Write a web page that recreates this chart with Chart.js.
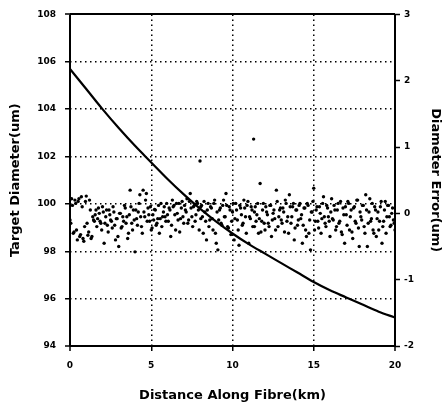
<!DOCTYPE html>
<html>
<head>
<meta charset="utf-8">
<script src="https://cdn.jsdelivr.net/npm/chart.js@4/dist/chart.umd.min.js"></script>
<style>
  html, body { margin: 0; padding: 0; background: #fff; }
  #wrap { width: 443px; height: 406px; }
</style>
</head>
<body>
<div id="wrap"><canvas id="c" width="443" height="406"></canvas></div>
<script>
// target diameter curve (left axis)
const curveX = [0, 1, 2, 3, 4, 5, 6, 7, 8, 9, 10, 11, 12, 13, 14, 15, 16, 17, 18, 19, 20];
const curveY = [105.7, 104.85, 104.0, 103.2, 102.45, 101.75, 101.05, 100.4, 99.8, 99.25, 98.75,
                98.3, 97.9, 97.5, 97.1, 96.7, 96.35, 96.05, 95.75, 95.45, 95.2];

// diameter error points (right axis)
const errX = [
  0.0, 0.05, 0.1, 0.2, 0.3, 0.4, 0.5, 0.6, 0.7, 0.8, 0.9, 1.0, 1.1, 1.2, 1.3, 1.4, 1.5, 1.6, 1.7, 1.8, 1.9,
  2.0, 2.1, 2.2, 2.3, 2.4, 2.5, 2.6, 2.7, 2.8, 2.9, 3.0, 3.1, 3.2, 3.3, 3.4, 3.5, 3.6, 3.7, 3.8, 3.9,
  4.0, 4.1, 4.2, 4.3, 4.4, 4.5, 4.6, 4.7, 4.8, 4.9, 5.0, 5.1, 5.2, 5.3, 5.4, 5.5, 5.6, 5.7, 5.8, 5.9,
  6.0, 6.1, 6.2, 6.3, 6.4, 6.5, 6.6, 6.7, 6.8, 6.9, 7.0, 7.1, 7.2, 7.3, 7.4, 7.5, 7.6, 7.7, 7.8, 7.9,
  8.0, 8.05, 8.1, 8.2, 8.3, 8.4, 8.5, 8.6, 8.7, 8.8, 8.9, 9.0, 9.1, 9.2, 9.3, 9.4, 9.5, 9.6, 9.7, 9.8, 9.9,
  10.0, 10.1, 10.2, 10.3, 10.4, 10.5, 10.6, 10.7, 10.8, 10.9, 11.0, 11.1, 11.2, 11.3, 11.35, 11.4, 11.5,
  11.6, 11.7, 11.8, 11.9, 12.0, 12.1, 12.2, 12.3, 12.4, 12.5, 12.6, 12.7, 12.8, 12.9, 13.0, 13.1, 13.2,
  13.3, 13.4, 13.5, 13.6, 13.7, 13.8, 13.9, 14.0, 14.1, 14.2, 14.3, 14.4, 14.5, 14.6, 14.7, 14.8, 14.9,
  15.0, 15.1, 15.2, 15.3, 15.4, 15.5, 15.6, 15.7, 15.8, 15.9, 16.0, 16.1, 16.2, 16.3, 16.4, 16.5, 16.6,
  16.7, 16.8, 16.9, 17.0, 17.1, 17.2, 17.3, 17.4, 17.5, 17.6, 17.7, 17.8, 17.9, 18.0, 18.1, 18.2, 18.3,
  18.4, 18.5, 18.6, 18.7, 18.8, 18.9, 19.0, 19.1, 19.2, 19.3, 19.4, 19.5, 19.6, 19.7, 19.8, 19.9, 20.0,
  0.15, 0.25, 0.35, 0.45, 0.55, 0.65, 0.75, 0.85, 0.95, 1.05, 1.15, 1.25, 1.35, 1.45, 1.55, 1.65, 1.75, 1.85, 1.95, 2.05,
  2.15, 2.25, 2.35, 2.45, 2.55, 2.65, 2.75, 2.85, 2.95, 3.05, 3.15, 3.25, 3.35, 3.45, 3.55, 3.65, 3.75, 3.85, 3.95, 4.05,
  4.15, 4.25, 4.35, 4.45, 4.55, 4.65, 4.75, 4.85, 4.95, 5.05, 5.15, 5.25, 5.35, 5.45, 5.55, 5.65, 5.75, 5.85, 5.95, 6.05,
  6.15, 6.25, 6.35, 6.45, 6.55, 6.65, 6.75, 6.85, 6.95, 7.05, 7.15, 7.25, 7.35, 7.45, 7.55, 7.65, 7.75, 7.85, 7.95, 8.05,
  8.15, 8.25, 8.35, 8.45, 8.55, 8.65, 8.75, 8.85, 8.95, 9.05, 9.15, 9.25, 9.35, 9.45, 9.55, 9.65, 9.75, 9.85, 9.95, 10.05,
  10.15, 10.25, 10.35, 10.45, 10.55, 10.65, 10.75, 10.85, 10.95, 11.05, 11.15, 11.25, 11.35, 11.45, 11.55, 11.65, 11.75, 11.85, 11.95, 12.05,
  12.15, 12.25, 12.35, 12.45, 12.55, 12.65, 12.75, 12.85, 12.95, 13.05, 13.15, 13.25, 13.35, 13.45, 13.55, 13.65, 13.75, 13.85, 13.95, 14.05,
  14.15, 14.25, 14.35, 14.45, 14.55, 14.65, 14.75, 14.85, 14.95, 15.05, 15.15, 15.25, 15.35, 15.45, 15.55, 15.65, 15.75, 15.85, 15.95, 16.05,
  16.15, 16.25, 16.35, 16.45, 16.55, 16.65, 16.75, 16.85, 16.95, 17.05, 17.15, 17.25, 17.35, 17.45, 17.55, 17.65, 17.75, 17.85, 17.95, 18.05,
  18.15, 18.25, 18.35, 18.45, 18.55, 18.65, 18.75, 18.85, 18.95, 19.05, 19.15, 19.25, 19.35, 19.45, 19.55, 19.65, 19.75, 19.85, 19.95
];
const errY = [
  -0.10, -0.15, 0.22, -0.30, 0.20, -0.25, 0.18, -0.35, 0.25, -0.38, -0.20, 0.26, -0.33, 0.20, -0.38, -0.05, -0.12, 0.05, -0.08, 0.00, -0.15,
  0.10, -0.45, -0.05, -0.18, 0.05, -0.10, -0.22, 0.02, -0.40, -0.08, -0.50, 0.00, -0.20, -0.12, 0.08, -0.05, -0.30, 0.35, -0.15, 0.05,
  -0.58, -0.08, 0.02, 0.28, -0.20, 0.35, -0.05, 0.30, 0.08, -0.12, -0.25, -0.02, 0.06, -0.18, -0.08, -0.30, 0.15, -0.05, 0.10, -0.12,
  -0.02, 0.08, -0.35, 0.20, 0.12, -0.25, 0.00, 0.15, -0.08, 0.18, -0.15, 0.05, 0.22, -0.10, 0.30, -0.05, 0.10, -0.12, 0.18, 0.05,
  0.79, -0.08, 0.12, -0.30, 0.02, -0.40, 0.15, -0.10, 0.08, -0.25, 0.20, -0.45, -0.55, 0.05, -0.15, 0.12, -0.05, 0.30, -0.20, 0.10, -0.32,
  0.02, -0.40, 0.15, -0.10, -0.48, 0.08, -0.18, 0.20, -0.05, 0.12, -0.45, -0.08, 0.05, 1.12, -0.20, 0.10, -0.02,
  -0.30, 0.45, -0.12, 0.15, -0.25, 0.02, -0.15, 0.12, -0.35, 0.00, -0.08, 0.35, -0.20, 0.05, -0.10, 0.08, -0.28,
  0.15, -0.05, 0.28, -0.15, 0.10, -0.40, 0.05, -0.18, 0.12, -0.08, -0.45, 0.08, -0.25, 0.15, -0.30, -0.55, 0.02,
  0.38, -0.12, 0.10, -0.22, 0.00, -0.08, 0.25, -0.15, 0.12, -0.05, -0.35, 0.22, -0.10, 0.05, -0.20, 0.15, -0.12,
  -0.28, 0.08, -0.45, -0.02, 0.18, -0.25, 0.05, -0.38, 0.10, -0.15, 0.20, -0.50, -0.05, 0.12, -0.20, 0.28, -0.50,
  0.02, -0.12, 0.15, -0.30, 0.05, -0.08, -0.25, 0.10, -0.45, -0.12, 0.18, -0.05, 0.12, -0.20, 0.00, -0.10, -0.25,
  0.12, -0.28, 0.15, -0.40, 0.22, -0.32, 0.10, -0.42, 0.18, -0.15, -0.28, 0.05, -0.35, -0.10, -0.02, -0.20, 0.08, -0.12, -0.25, 0.02,
  -0.15, 0.05, -0.28, -0.02, -0.12, 0.10, -0.18, -0.08, -0.35, 0.00, -0.22, -0.05, 0.12, -0.15, -0.38, -0.02, 0.10, -0.25, -0.10, 0.05,
  -0.18, 0.15, -0.05, -0.30, 0.02, 0.20, -0.12, -0.02, 0.10, -0.22, -0.10, 0.05, -0.15, 0.12, -0.08, -0.20, 0.02, -0.05, 0.15, -0.12,
  0.05, -0.18, 0.10, -0.02, 0.15, -0.10, -0.28, 0.08, -0.05, 0.12, 0.02, -0.15, 0.18, 0.08, -0.20, 0.12, -0.02, 0.15, -0.25, 0.10,
  -0.05, 0.18, -0.12, 0.05, -0.20, 0.10, -0.08, 0.15, -0.30, 0.02, -0.10, 0.08, -0.18, 0.20, -0.05, 0.12, -0.22, 0.05, -0.12, 0.15,
  -0.08, 0.05, -0.25, 0.12, -0.02, -0.15, 0.08, -0.30, 0.18, -0.05, 0.10, -0.20, 0.02, -0.12, 0.15, -0.08, -0.28, 0.05, -0.15, 0.10,
  -0.02, -0.20, 0.12, -0.10, 0.05, -0.25, 0.18, -0.05, 0.08, -0.15, 0.02, 0.20, -0.12, -0.30, 0.10, -0.05, 0.15, -0.22, 0.05, -0.10,
  0.15, -0.02, -0.18, 0.08, -0.35, 0.12, -0.10, 0.02, 0.18, -0.25, 0.05, -0.12, 0.10, -0.30, 0.15, -0.05, -0.20, 0.08, -0.12, 0.02,
  -0.08, 0.12, -0.25, 0.05, -0.15, 0.18, -0.32, -0.02, 0.10, -0.18, 0.15, -0.05, -0.28, 0.08, -0.12, 0.20, -0.22, 0.02, -0.10, 0.12,
  -0.30, 0.05, -0.15, 0.22, -0.08, -0.25, 0.10, -0.35, 0.02, -0.12, 0.18, -0.20, 0.05, -0.30, 0.12, -0.05, -0.18, 0.08, -0.15
];

const xTicks = [0, 5, 10, 15, 20];
const leftTicks = [94, 96, 98, 100, 102, 104, 106, 108];
const rightTicks = [-2, -1, 0, 1, 2, 3];

const tickFont = { family: 'DejaVu Sans', size: 9, weight: 'bold' };
const titleFont = { family: 'DejaVu Sans', size: 13, weight: 'bold' };

// grid lines at the ends of an axis form the solid frame, the inner ones are dotted
function isEdge(c) {
  const s = c.scale;
  return c.tick && (c.tick.value === s.min || c.tick.value === s.max);
}

const gridOpts = {
  color: '#000',
  lineWidth: c => isEdge(c) ? 2 : 1.5,
  tickColor: '#000',
  tickWidth: 1.5,
  tickLength: 5,
  tickBorderDash: []
};
const borderOpts = {
  display: false,
  dash: c => isEdge(c) ? [] : [1.5, 3.5]
};

new Chart(document.getElementById('c'), {
  type: 'scatter',
  data: {
    datasets: [
      {
        type: 'line',
        data: curveX.map((x, i) => ({ x: x, y: curveY[i] })),
        yAxisID: 'y',
        borderColor: '#000',
        borderWidth: 2.2,
        pointRadius: 0,
        cubicInterpolationMode: 'monotone',
        fill: false
      },
      {
        data: errX.map((x, i) => ({ x: x, y: errY[i] })),
        yAxisID: 'yR',
        backgroundColor: '#000',
        borderColor: '#000',
        pointRadius: 1.7,
        borderWidth: 0
      }
    ]
  },
  options: {
    responsive: false,
    animation: false,
    layout: { padding: { top: 12 } },
    plugins: { legend: { display: false }, tooltip: { enabled: false } },
    scales: {
      x: {
        type: 'linear', position: 'bottom', min: 0, max: 20,
        afterBuildTicks: s => { s.ticks = xTicks.map(v => ({ value: v })); },
        afterFit: s => { s.height = 60; },
        grid: gridOpts,
        border: borderOpts,
        ticks: { font: tickFont, color: '#000', padding: 9, maxRotation: 0 },
        title: { display: true, text: 'Distance Along Fibre(km)', font: titleFont, color: '#000', padding: { top: 0, bottom: 3 } }
      },
      y: {
        type: 'linear', position: 'left', min: 94, max: 108,
        afterBuildTicks: s => { s.ticks = leftTicks.map(v => ({ value: v })); },
        afterFit: s => { s.width = 70; },
        grid: gridOpts,
        border: borderOpts,
        ticks: { font: tickFont, color: '#000', padding: 9 },
        title: { display: true, text: 'Target Diameter(um)', font: titleFont, color: '#000', padding: { top: 8, bottom: 0 } }
      },
      yR: {
        type: 'linear', position: 'right', min: -2, max: 3,
        afterBuildTicks: s => { s.ticks = rightTicks.map(v => ({ value: v })); },
        afterFit: s => { s.width = 48; },
        grid: { drawOnChartArea: false, color: '#000', tickColor: '#000', tickWidth: 1.5, tickLength: 5 },
        border: { display: false },
        ticks: { font: tickFont, color: '#000', padding: 4 },
        title: { display: true, text: 'Diameter Error(um)', font: titleFont, color: '#000', padding: { top: 0, bottom: 3 } }
      }
    }
  }
});
</script>
</body>
</html>
